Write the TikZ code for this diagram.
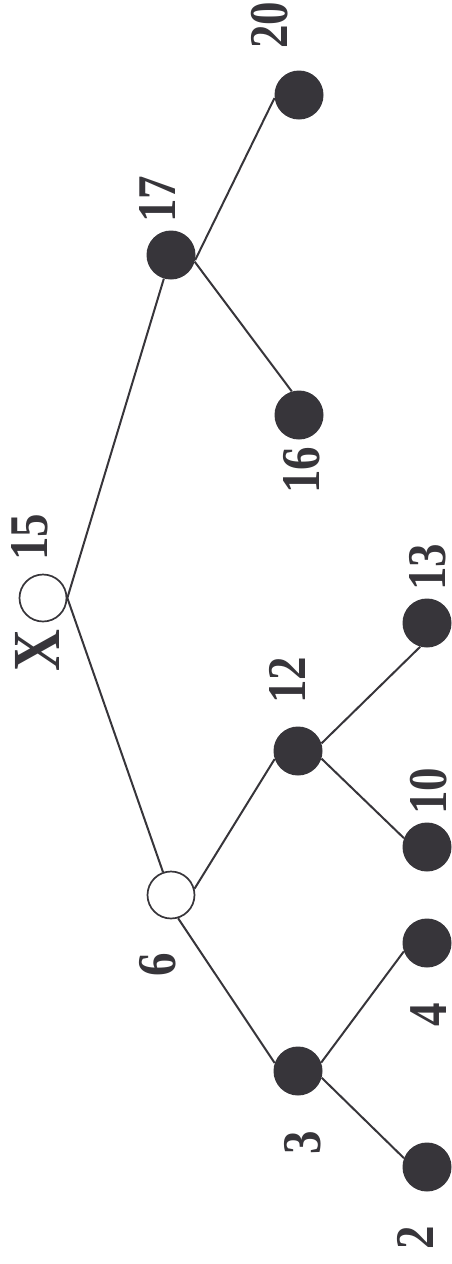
\documentclass[tikz,border=0pt]{standalone}
\usepackage{fontspec}
\setmainfont{Liberation Serif}
\definecolor{dk}{RGB}{55,53,58}
\newcommand{\tallnum}[1]{\scalebox{1}[1.16]{#1}}
\begin{document}
\begin{tikzpicture}[x=1pt,y=-1pt,
  full/.style={circle,fill=dk,draw=none,minimum size=49pt,inner sep=0pt},
  open/.style={circle,draw=dk,line width=1.7pt,fill=white,minimum size=47pt,inner sep=0pt},
  lbl/.style={rotate=90,font=\fontsize{47}{47}\selectfont\bfseries,text=dk,inner sep=0pt},
  xlbl/.style={rotate=90,font=\fontsize{58}{58}\selectfont\bfseries,text=dk,inner sep=0pt},
  edge/.style={draw=dk,line width=2pt}]
\useasboundingbox (0,0) rectangle (452,1264);
% nodes
\node[open] (n15) at (43,598) {};
\node[full] (n17) at (171,255) {};
\node[full] (n20) at (299,95) {};
\node[full] (n16) at (299,415) {};
\node[open] (n6) at (171,895) {};
\node[full] (n12) at (298,751) {};
\node[full] (n13) at (427,623) {};
\node[full] (n10) at (427,847) {};
\node[full] (n3) at (298,1071) {};
\node[full] (n4) at (427,943) {};
\node[full] (n2) at (427,1167) {};
% edges
\draw[edge] (n15.east) -- (n17);
\draw[edge] (n15.east) -- (n6);
\draw[edge] (n17.348) -- (n20.187);
\draw[edge] (n17.344) -- (n16.107);
\draw[edge] (n6.15) -- (n12.199);
\draw[edge] (n6.287) -- (n3.161);
\draw[edge] (n12.18) -- (n13.254);
\draw[edge] (n12.342) -- (n10.159);
\draw[edge] (n3.20) -- (n4.200);
\draw[edge] (n3.344) -- (n2.159);
% labels
\node[lbl] (l20) at (270,25) {\tallnum{20}};
\node[lbl] (l17) at (158,199) {\tallnum{17}};
\node[lbl] (l16) at (302,470) {\tallnum{16}};
\node[lbl] (l15) at (30,537) {\tallnum{15}};
\node[xlbl] (lx) at (37,651) {\tallnum{X}};
\node[lbl] (l13) at (428,567) {\tallnum{13}};
\node[lbl] (l12) at (287,680) {\tallnum{12}};
\node[lbl] (l10) at (429,791) {\tallnum{10}};
\node[lbl] (l6) at (158,965) {\tallnum{6}};
\node[lbl] (l4) at (429,1015) {\tallnum{4}};
\node[lbl] (l3) at (303,1143) {\tallnum{3}};
\node[lbl] (l2) at (415,1238) {\tallnum{2}};
\end{tikzpicture}
\end{document}
